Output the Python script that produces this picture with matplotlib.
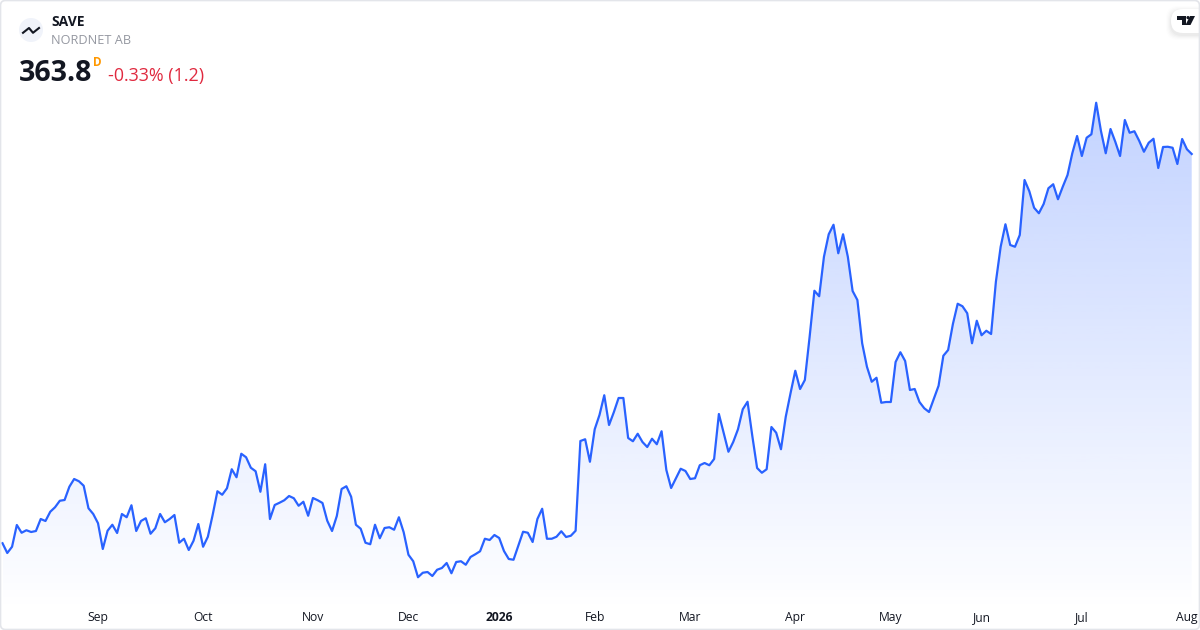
import numpy as np
import matplotlib
matplotlib.use('Agg')
import matplotlib.pyplot as plt
from matplotlib.patches import Circle, FancyBboxPatch, Polygon

plt.rcParams['font.family'] = ['Open Sans', 'DejaVu Sans']

# daily closes
price_2025 = [208.1, 204.2, 206.7, 215.4, 212.3, 213.3, 212.6, 213.0, 217.8, 217.0,
              220.7, 222.5, 225.1, 225.4, 230.7, 233.8, 232.9, 231.1, 222.1, 219.8,
              216.1, 205.8, 213.1, 215.5, 212.2, 219.8, 218.5, 223.3, 213.0, 217.0,
              218.1, 211.9, 214.1, 219.8, 216.5, 217.8, 219.4, 208.3, 209.9, 205.4,
              209.1, 215.8, 206.7, 210.7, 219.4, 228.9, 227.5, 230.1, 237.7, 234.5,
              243.9, 242.5, 238.3, 236.9, 228.7, 239.7, 217.8, 223.4, 224.3, 225.3,
              227.0, 226.1, 223.1, 224.7, 219.1, 226.2, 225.3, 224.2, 217.1, 213.0,
              219.0, 229.8, 230.9, 226.7, 215.5, 213.9, 208.3, 207.7, 215.5, 210.1,
              214.2, 214.5, 213.5, 218.5, 212.5, 203.5, 200.9, 194.5, 196.3, 196.6,
              195.0, 197.5, 198.2, 200.2, 196.1, 200.6, 200.9, 199.5, 202.6, 203.7,
              204.9, 209.9, 209.4, 211.4]
price_2026_q1 = [210.2, 205.0, 201.8, 201.5, 207.1, 212.7, 212.3, 208.6, 217.8, 221.9,
                 209.9, 209.9, 210.7, 212.9, 210.6, 211.1, 213.1, 249.0, 249.7, 240.7,
                 253.7, 259.4, 267.3, 255.4, 260.5, 266.2, 266.2, 250.2, 248.9, 251.9,
                 248.6, 246.6, 249.9, 247.7, 252.9, 237.4, 230.2, 234.1, 237.9, 237.0,
                 233.8, 234.1, 239.3, 240.2, 239.3, 241.8, 259.8, 252.3, 244.7, 248.6,
                 253.7, 261.7, 264.7, 251.0, 238.2, 236.3, 237.7, 254.6, 252.3, 245.7,
                 258.7]
price_2026_q2 = [268.1, 277.1, 269.8, 273.4, 290.7, 309.1, 306.9, 322.7, 331.7, 335.5,
                 324.1, 331.7, 322.7, 309.0, 305.4, 288.1, 278.7, 272.7, 274.3, 264.3,
                 264.6, 264.6, 280.6, 284.5, 281.0, 269.4, 269.8, 264.6, 262.1, 260.6,
                 265.9, 271.1, 283.1, 285.4, 295.8, 303.9, 302.9, 300.1, 288.1, 297.1,
                 291.3, 293.1, 291.8, 312.7, 326.7, 335.7, 327.4, 326.7, 331.4, 353.4,
                 348.9, 342.3, 340.1, 343.8, 350.1, 351.7, 345.7, 350.7, 355.4, 364.1]
price_2026_q3 = [371.0, 363.0, 370.3, 371.7, 384.3, 373.0, 364.1, 373.8, 368.7, 363.0,
                 377.4, 372.3, 372.9, 369.1, 364.7, 368.3, 369.9, 358.2, 366.6, 366.7,
                 366.3, 359.8, 369.8, 365.7, 363.8]

tick_pos = [20, 42, 65, 85, 104, 124, 144, 166, 186, 205, 226, 248]
tick_labels = ['Sep', 'Oct', 'Nov', 'Dec', '2026', 'Feb', 'Mar', 'Apr', 'May', 'Jun', 'Jul', 'Aug']

price = np.array(price_2025 + price_2026_q1 + price_2026_q2 + price_2026_q3)
days = np.arange(len(price))

W, H = 1200, 630
step = (1191.7 - 2.5) / (len(price) - 1)

fig = plt.figure(figsize=(12, 6.3), dpi=100, facecolor='white')
ax = fig.add_axes([0, 0, 1, 1])
ax.axis('off')

# area under the line, gradient clipped to the polygon
y_top = price.max()
y_bot = 425.4 - 0.4 * 612
grad = np.ones((256, 1, 4))
grad[:, 0, 0] = 41 / 255
grad[:, 0, 1] = 98 / 255
grad[:, 0, 2] = 1.0
grad[:, 0, 3] = np.linspace(0.28, 0.0, 256)
im = ax.imshow(grad, extent=(0, days[-1], y_bot, y_top), aspect='auto', origin='upper',
               interpolation='bilinear', zorder=1)
poly = Polygon(np.vstack([np.column_stack([days, price]),
                          [days[-1], y_bot], [0, y_bot]]),
               closed=True, fc='none', ec='none', transform=ax.transData)
ax.add_patch(poly)
im.set_clip_path(poly)
ax.set_xlim(-2.5 / step, (W - 2.5) / step)
ax.set_ylim(173.4, 425.4)

ax.plot(days, price, color='#2962FF', lw=1.6, zorder=2, solid_joinstyle='round')

for d, lab in zip(tick_pos, tick_labels):
    ax.annotate(lab, xy=(d, 0), xycoords=('data', 'axes fraction'), xytext=(0, 9),
                textcoords='offset points', ha='center', va='center', fontsize=8.7,
                color='#131722', fontweight='bold' if lab == '2026' else 'normal')

# overlay in pixel coordinates for header, logos and frame
ov = fig.add_axes([0, 0, 1, 1], facecolor='none')
ov.set_xlim(0, W)
ov.set_ylim(H, 0)
ov.axis('off')

# symbol logo
ov.add_patch(Circle((31, 30), 12, fc='#f0f3fa', ec='none', zorder=3))
ov.plot([23, 29, 33, 39], [32.8, 28, 32.8, 28], color='#131722', lw=1.5, zorder=4)

ov.text(51, 22, 'SAVE', fontsize=10, fontweight='bold', color='#131722', va='center', ha='left')
ov.text(51, 41, 'NORDNET AB', fontsize=9.2, color='#9598a1', va='center', ha='left')
ov.text(19, 73.5, '363.8', fontsize=20.5, fontweight='bold', color='#131722', va='center', ha='left')
ov.text(93, 62, 'D', fontsize=8.5, fontweight='bold', color='#ff9800', va='center', ha='left')
ov.text(108, 76, '-0.33% (1.2)', fontsize=12.9, color='#e0293f', va='center', ha='left')

# tradingview badge, with a soft shadow
for i, a in zip(range(5, 0, -1), [0.006, 0.01, 0.014, 0.018, 0.022]):
    ov.add_patch(FancyBboxPatch((1171 - i, 9 - i + 2), 40 + 2 * i, 24 + 2 * i,
                                boxstyle='round,pad=0,rounding_size=12', fc='black', ec='none',
                                alpha=a, zorder=3))
ov.add_patch(FancyBboxPatch((1171, 9), 40, 24, boxstyle='round,pad=0,rounding_size=12',
                            fc='white', ec='none', zorder=3))
ov.fill([1177, 1186, 1186, 1182, 1182, 1177],
        [16, 16, 25, 25, 19.5, 19.5], color='#131722', zorder=4, lw=0)
ov.fill([1190, 1195, 1190.5, 1185.5], [16, 16, 25, 25], color='#131722', zorder=4, lw=0)
ov.add_patch(Circle((1188, 17.6), 1.6, fc='#131722', ec='none', zorder=4))

# frame on top, covers the badge's right end
ov.add_patch(FancyBboxPatch((1199.5, 0), 5, 60, boxstyle='square,pad=0', fc='white', ec='none', zorder=4.5))
ov.add_patch(FancyBboxPatch((0.5, 0.5), W - 1, H - 1, boxstyle='round,pad=0,rounding_size=5',
                            fc='none', ec='#e3e5ea', lw=1.2, zorder=5))

fig.savefig('out.png', dpi=100, facecolor='white')
